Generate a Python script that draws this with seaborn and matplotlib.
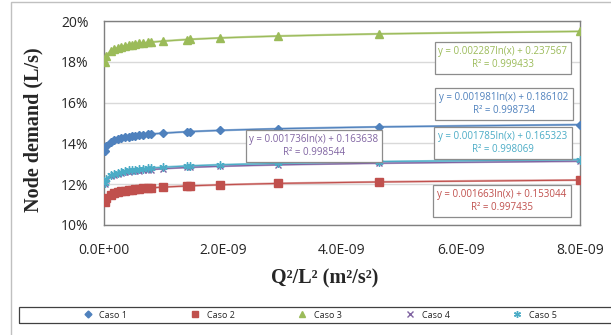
import numpy as np
import pandas as pd
import seaborn as sns
import matplotlib
matplotlib.use("Agg")
import matplotlib.pyplot as plt
from matplotlib.ticker import PercentFormatter, FuncFormatter
from matplotlib.lines import Line2D
from matplotlib.patches import Rectangle

# ---------------- data ----------------
x_vals = [0.012e-9, 0.04e-9, 0.11e-9, 0.17e-9, 0.235e-9, 0.29e-9, 0.35e-9,
          0.42e-9, 0.47e-9, 0.52e-9, 0.59e-9, 0.66e-9, 0.74e-9, 0.79e-9,
          0.99e-9, 1.39e-9, 1.45e-9, 1.95e-9, 2.92e-9, 4.62e-9, 8.0e-9]

caso1 = [13.63, 13.87, 14.07, 14.15, 14.22, 14.26, 14.30, 14.33, 14.36, 14.38, 14.40,
         14.42, 14.45, 14.46, 14.50, 14.57, 14.58, 14.64, 14.72, 14.81, 14.92]
caso2 = [11.12, 11.32, 11.49, 11.56, 11.62, 11.65, 11.68, 11.71, 11.73, 11.75, 11.77,
         11.79, 11.81, 11.82, 11.86, 11.91, 11.92, 11.97, 12.04, 12.11, 12.20]
caso3 = [18.01, 18.28, 18.51, 18.61, 18.69, 18.73, 18.78, 18.82, 18.84, 18.87, 18.90,
         18.92, 18.95, 18.96, 19.01, 19.09, 19.10, 19.17, 19.26, 19.37, 19.49]
caso4 = [12.00, 12.21, 12.38, 12.46, 12.51, 12.55, 12.58, 12.62, 12.64, 12.65, 12.67,
         12.69, 12.71, 12.72, 12.76, 12.82, 12.83, 12.88, 12.95, 13.03, 13.13]
caso5 = [12.04, 12.26, 12.44, 12.52, 12.57, 12.61, 12.65, 12.68, 12.70, 12.72, 12.74,
         12.76, 12.78, 12.79, 12.83, 12.89, 12.90, 12.95, 13.02, 13.11, 13.20]

series_names = ["Caso 1", "Caso 2", "Caso 3", "Caso 4", "Caso 5"]
series_values = [caso1, caso2, caso3, caso4, caso5]

# trendline coefficients shown on the chart: y = a ln(x) + b
trend_a = [0.001981, 0.001663, 0.002287, 0.001736, 0.001785]
trend_b = [0.186102, 0.153044, 0.237567, 0.163638, 0.165323]
trend_r2 = ["0.998734", "0.997435", "0.999433", "0.998544", "0.998069"]

x_ticks = [0, 2e-9, 4e-9, 6e-9, 8e-9]
y_ticks = [10, 12, 14, 16, 18, 20]

# ---------------- styling ----------------
colors = ["#4F81BD", "#C0504D", "#9BBB59", "#8064A2", "#4BACC6"]
light = ["#95B3D7", "#E0A8A7", "#C3D69B", "#B3A2C7", "#93CDDD"]
markers = ["D", "s", "^", "x", (6, 2, 0)]
msizes = [4.5, 5.5, 6, 5, 6]
legend_ms = [3.5, 4.5, 4.5, 4.5, 5]
# equation box centers (figure pixels)
eq_pos = [(504, 104), (502, 201), (503, 58), (314, 146), (503, 143)]

W, H = 611, 335
sns.set_style("white")
plt.rcParams['font.family'] = ['Open Sans', 'DejaVu Sans']

fig = plt.figure(figsize=(W / 100, H / 100), dpi=100)
ax = fig.add_axes([104 / W, 1 - 225 / H, (580 - 104) / W, (225 - 21) / H])

df = pd.DataFrame({"x": x_vals})
for name, ys, c, lc, m, ms, a, b in zip(series_names, series_values, colors, light,
                                        markers, msizes, trend_a, trend_b):
    xt = np.geomspace(x_vals[0], x_vals[-1], 400)
    yt = (a * np.log(xt) + b) * 100
    ax.plot(xt, yt, color=lc, lw=1.6, zorder=2)
    sns.lineplot(x=x_vals, y=ys, color=c, marker=m, markersize=ms,
                 markeredgecolor=c, markerfacecolor=c, markeredgewidth=1.0,
                 lw=0.8, ax=ax, zorder=3, sort=False, estimator=None)

ax.set_xlim(0, 8e-9)
ax.set_ylim(10, 20)
ax.set_xticks(x_ticks)
ax.set_yticks(y_ticks)
ax.xaxis.set_major_formatter(FuncFormatter(lambda v, p: f"{v:.1E}"))
ax.yaxis.set_major_formatter(PercentFormatter(xmax=100, decimals=0))
ax.yaxis.grid(True, color="#D9D9D9", lw=1)
ax.xaxis.grid(False)
ax.set_axisbelow(True)
for s in ax.spines.values():
    s.set_color("#7F7F7F")
    s.set_linewidth(1.0)
ax.tick_params(axis="x", direction="in", length=4, width=0.8, color="#7F7F7F",
               pad=13, labelsize=10)
ax.tick_params(axis="y", length=0, pad=11, labelsize=10)
ax.set_xlabel("")
ax.set_ylabel("")

# equation boxes
for (px, py), c, a, b, r2 in zip(eq_pos, colors, trend_a, trend_b, trend_r2):
    fig.text(px / W, 1 - py / H, f"y = {a:.6f}ln(x) + {b:.6f}\nR² = {r2}",
             ha="center", va="center", multialignment="center", fontsize=7,
             color=c, linespacing=1.25,
             bbox=dict(boxstyle="square,pad=0.4", fc="white", ec="#8C8C8C", lw=0.9))

# axis titles
fig.text(33 / W, 1 - 130 / H, "Node demand (L/s)", rotation=90, ha="center",
         va="center", family="Liberation Serif", weight="bold", fontsize=14.5)
fig.text(325 / W, 1 - 278 / H, "Q²/L² (m²/s²)", ha="center", va="center",
         family="Liberation Serif", weight="bold", fontsize=14.5)

# legend
handles = [Line2D([], [], ls="none", marker=m, color=c, markeredgecolor=c,
                  markerfacecolor=c, markersize=ms)
           for m, c, ms in zip(markers, colors, legend_ms)]
fig.legend(handles, series_names, loc="center", bbox_to_anchor=(320 / W, 1 - 315 / H),
           ncol=5, frameon=False, fontsize=6.5, handlelength=1.0, handletextpad=0.8,
           columnspacing=7.0, borderpad=0)
fig.add_artist(Rectangle((19 / W, 1 - 323 / H), (620 - 19) / W, 16 / H,
                         transform=fig.transFigure, fill=False, ec="#404040", lw=0.9,
                         clip_on=False))
# outer chart border
fig.add_artist(Rectangle((11 / W, -0.1), 1.0, 1 - 2 / H + 0.1,
                         transform=fig.transFigure, fill=False, ec="#C0C0C0", lw=1.0,
                         clip_on=False))

fig.savefig("out.png", dpi=100)
